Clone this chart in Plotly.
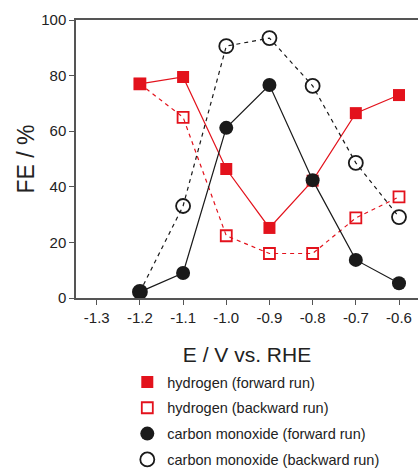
import plotly.graph_objects as go

potential = [-1.2, -1.1, -1.0, -0.9, -0.8, -0.7, -0.6]
h2_forward = [77.0, 79.5, 46.4, 25.2, 42.2, 66.5, 73.0]
h2_backward = [77.0, 65.0, 22.4, 16.0, 16.0, 28.8, 36.4]
co_forward = [2.2, 9.0, 61.2, 76.6, 42.4, 13.7, 5.3]
co_backward = [2.2, 33.1, 90.6, 93.5, 76.3, 48.6, 29.1]
x_ticks = [-1.3, -1.2, -1.1, -1.0, -0.9, -0.8, -0.7, -0.6]
x_ticklabels = ["-1.3", "-1.2", "-1.1", "-1.0", "-0.9", "-0.8", "-0.7", "-0.6"]
series_names = ["hydrogen (forward run)", "hydrogen (backward run)",
                "carbon monoxide (forward run)", "carbon monoxide (backward run)"]

RED = "#e3121c"
BLK = "#1a1a1a"

styles = [
    dict(line=dict(color=RED, width=1.2),
         marker=dict(symbol="square", size=12, color=RED)),
    dict(line=dict(color=RED, width=1.2, dash="4px,4px"),
         marker=dict(symbol="square-open", size=11, color=RED, line=dict(width=1.8))),
    dict(line=dict(color=BLK, width=1.2),
         marker=dict(symbol="circle", size=14, color=BLK)),
    dict(line=dict(color=BLK, width=1.2, dash="4px,4px"),
         marker=dict(symbol="circle-open", size=14, color=BLK, line=dict(width=1.8))),
]
series = [h2_forward, h2_backward, co_forward, co_backward]

fig = go.Figure()
for name, ys, st in zip(series_names, series, styles):
    fig.add_trace(go.Scatter(x=potential, y=ys, mode="lines+markers", name=name,
                             line=st["line"], marker=st["marker"],
                             showlegend=False, cliponaxis=False))
for i, (name, st) in enumerate(zip(series_names, styles)):
    fig.add_trace(go.Scatter(x=[None], y=[None], mode="markers", name=name,
                             legendgroup=str(i), marker=st["marker"], showlegend=True))

fig.update_layout(
    width=418, height=468,
    margin=dict(l=76, r=0, t=20, b=170),
    paper_bgcolor="white", plot_bgcolor="white",
    font=dict(family="Liberation Sans, Arial, sans-serif", color="#222"),
    showlegend=True,
    legend=dict(x=0.15, y=0.218, yref="container", xanchor="left", yanchor="top",
                font=dict(size=14.5, color="#222"), tracegroupgap=4,
                bgcolor="rgba(0,0,0,0)", itemwidth=30),
    xaxis=dict(range=[-1.348, -0.556], tickvals=x_ticks, ticktext=x_ticklabels,
               showline=True, linecolor="#555", linewidth=1.5, mirror=True,
               ticks="outside", ticklen=5, tickcolor="#555", showgrid=False, zeroline=False,
               tickfont=dict(size=15),
               title=dict(text="E / V vs. RHE", font=dict(size=21), standoff=25)),
    yaxis=dict(range=[0, 100], dtick=20, showline=True, linecolor="#555", linewidth=1.5,
               ticks="outside", ticklen=5, tickcolor="#555", showgrid=False, zeroline=False,
               tickfont=dict(size=15),
               title=dict(text="FE / %", font=dict(size=23), standoff=0)),
)

fig.write_html("out.html")
